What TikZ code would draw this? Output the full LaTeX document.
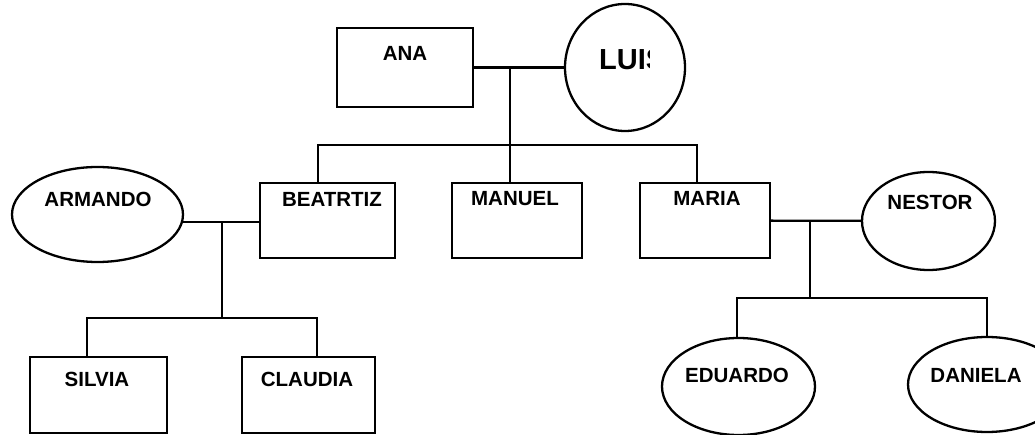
\documentclass[tikz,border=0pt]{standalone}
\usepackage{fontspec}
\setmainfont{Liberation Sans}
\usetikzlibrary{shapes.geometric}
\begin{document}
\begin{tikzpicture}[x=1pt,y=-1pt,line width=2.3pt,
  box/.style={draw,rectangle,inner sep=0pt},
  oval/.style={draw,ellipse,inner sep=0pt},
  lbl/.style={font=\fontsize{20.5}{20.5}\selectfont\bfseries,inner sep=0pt}]
\useasboundingbox (0,0) rectangle (1035,435);
% shapes
\node[box,minimum width=136pt,minimum height=79pt] (ana) at (405,67.5) {};
\node[oval,minimum width=120pt,minimum height=127pt] (luis) at (625,67.5) {};
\node[box,minimum width=135pt,minimum height=75pt] (bea) at (327.5,220.5) {};
\node[box,minimum width=130pt,minimum height=75pt] (man) at (517,220.5) {};
\node[box,minimum width=130pt,minimum height=75pt] (mar) at (705,220.5) {};
\node[oval,minimum width=171pt,minimum height=95pt] (arm) at (97.5,214.5) {};
\node[oval,minimum width=133pt,minimum height=98pt] (nes) at (928.5,221) {};
\node[box,minimum width=137pt,minimum height=76pt] (sil) at (98.5,395) {};
\node[box,minimum width=133pt,minimum height=76pt] (cla) at (308.5,395) {};
\node[oval,minimum width=153pt,minimum height=97pt] (edu) at (738.5,386.5) {};
\node[oval,minimum width=158pt,minimum height=95pt] (dan) at (987,384.5) {};
% labels
\node[lbl] (tana) at (405,53) {ANA};
\begin{scope}
  \clip (560,0) rectangle (649,135);
  \node[lbl,font=\fontsize{29}{29}\selectfont\bfseries,anchor=west] (tluis) at (598,60) {LUIS};
\end{scope}
\node[lbl] (tarm) at (98,199) {ARMANDO};
\node[lbl] (tbea) at (332,199) {BEATRTIZ};
\node[lbl] (tman) at (515,199) {MANUEL};
\node[lbl] (tmar) at (707,198) {MARIA};
\node[lbl] (tnes) at (930,202) {NESTOR};
\node[lbl] (tsil) at (97,379) {SILVIA};
\node[lbl] (tcla) at (307,379) {CLAUDIA};
\node[lbl] (tedu) at (737,375) {EDUARDO};
\node[lbl] (tdan) at (976,375) {DANIELA};
% connectors
\draw (ana) -- (luis);
\coordinate (j1) at (510,67.5);
\coordinate (b1l) at (318,145);
\coordinate (b1r) at (697,145);
\draw (j1) -- (j1 |- man.north);
\draw (b1l |- bea.north) -- (b1l) -- (b1r) -- (b1r |- mar.north);
\draw (arm.-5) -- (arm.-5 -| bea.west);
\coordinate (b2) at (222,318);
\coordinate (b2l) at (87,318);
\coordinate (b2r) at (317,318);
\draw (b2 |- arm.-5) -- (b2);
\draw (b2l |- sil.north) -- (b2l) -- (b2r) -- (b2r |- cla.north);
\draw (mar) -- (nes);
\coordinate (b3) at (810,298);
\coordinate (b3l) at (737,298);
\coordinate (b3r) at (987,298);
\draw (b3 |- mar.east) -- (b3);
\draw (b3l |- edu.north) -- (b3l) -- (b3r) -- (b3r |- dan.north);
\end{tikzpicture}
\end{document}
